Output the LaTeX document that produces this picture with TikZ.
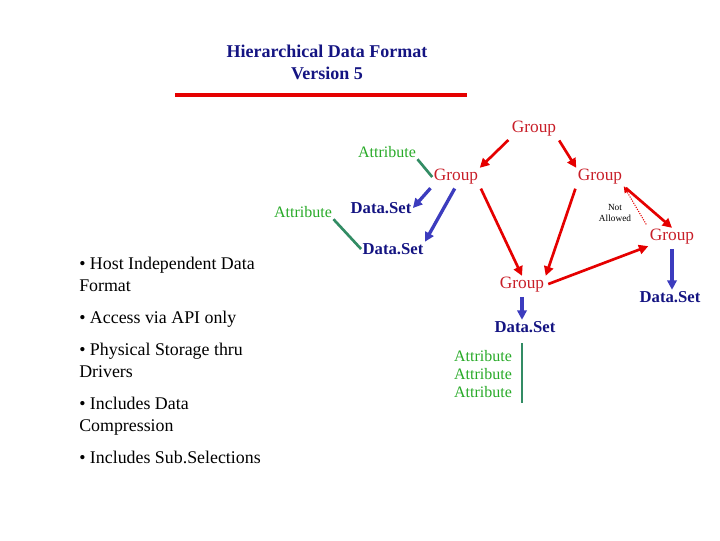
\documentclass[tikz,border=0pt]{standalone}
\usepackage{fontspec}
\setmainfont{Liberation Serif}
\usetikzlibrary{arrows.meta}
\definecolor{grpred}{RGB}{200,30,40}
\definecolor{dsblue}{RGB}{20,20,130}
\definecolor{attgreen}{RGB}{40,170,40}
\definecolor{lnblue}{RGB}{60,60,190}
\definecolor{lngreen}{RGB}{50,140,100}
\begin{document}
\begin{tikzpicture}[x=0.75pt,y=-0.75pt,
  grp/.style={text=grpred,font=\fontsize{13}{14}\selectfont,inner sep=1pt},
  ds/.style={text=dsblue,font=\bfseries\fontsize{12.5}{14}\selectfont,inner sep=1pt},
  att/.style={text=attgreen,font=\fontsize{12}{14}\selectfont,inner sep=1pt},
  red arr/.style={draw=red!90!black,line width=2pt,-{Triangle[length=7pt,width=7pt]},shorten <=2pt},
  blue arr/.style={draw=lnblue,line width=2.5pt,-{Triangle[length=7pt,width=7pt]},shorten <=2pt},
  green ln/.style={draw=lngreen,line width=2pt}]
\useasboundingbox (0,0) rectangle (720,540);
% title
\node[text=dsblue,font=\bfseries\fontsize{13.5}{16.5}\selectfont,align=center] (title) at (327,62) {Hierarchical Data Format\\Version 5};
\coordinate (barl) at (175,95);
\coordinate (barr) at (467,95);
\draw[red!90!black,line width=3pt] (barl) -- (barr);
% bullet list
\node[anchor=north west,align=left,font=\fontsize{13.4}{16.5}\selectfont,inner sep=0pt] (list) at (79,257)
 {\textbullet{} Host Independent Data\\Format\\[7.5pt]
  \textbullet{} Access via API only\\[7.5pt]
  \textbullet{} Physical Storage thru\\Drivers\\[7.5pt]
  \textbullet{} Includes Data\\Compression\\[7.5pt]
  \textbullet{} Includes Sub.Selections};
% nodes
\node[grp] (g0) at (534,129) {Group};
\node[att] (a1) at (387,152) {Attribute};
\node[grp] (gl) at (456,177) {Group};
\node[grp] (gr) at (600,177) {Group};
\node[ds] (d1) at (381,208) {Data.Set};
\node[att] (a2) at (303,212) {Attribute};
\node[font=\fontsize{7}{8}\selectfont,align=center,inner sep=0pt] (na) at (615,213) {Not\\Allowed};
\node[grp] (grr) at (672,237) {Group};
\node[ds] (d2) at (393,249) {Data.Set};
\node[grp] (gm) at (522,285) {Group};
\node[ds] (dr) at (670,297) {Data.Set};
\node[ds] (dm) at (525,327) {Data.Set};
\node[att,align=center,font=\fontsize{12}{13.5}\selectfont] (aa) at (483,374) {Attribute\\Attribute\\Attribute};
\coordinate (vt) at (522,343);
\coordinate (vb) at (522,403);
% connectors
\draw[red arr] (g0.south west) -- (gl.north east);
\draw[red arr] (g0.south east) -- (gr.north west);
\draw[green ln] (a1.south east) -- (gl.west);
\draw[green ln] (a2.south east) -- (d2.west);
\draw[blue arr] (gl.south west) -- (d1.east);
\draw[blue arr] (gl.south) -- (d2.north east);
\draw[red arr] (gl.south east) -- (gm.north);
\draw[red arr] (gr.south west) -- (gm.north east);
\draw[red arr] (gr.south east) -- (grr.north);
\draw[red!90!black,densely dotted,line width=0.8pt,-{Triangle[length=5pt,width=4pt]},shorten <=3pt] (grr.north west) -- (gr.south east);
\draw[red arr] (gm.east) -- (grr.south west);
\draw[blue arr] (gm.south) -- (dm.north -| gm.south);
\draw[blue arr] (grr.south) -- (dr.north -| grr.south);
\draw[green ln] (vt) -- (vb);
\end{tikzpicture}
\end{document}
